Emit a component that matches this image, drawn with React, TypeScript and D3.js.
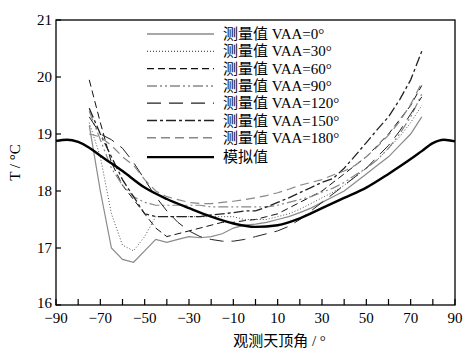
import * as d3 from "d3";

// viewing zenith angles of the measurements
const ANGLES = [
  -75, -70, -65, -60, -55, -50, -45, -40, -35, -30, -25, -20, -15, -10, -5, 0,
  5, 10, 15, 20, 25, 30, 35, 40, 45, 50, 55, 60, 65, 70, 75,
];

const VAA0 = [
  19.15, 18.0, 17.0, 16.8, 16.75, 16.95, 17.15, 17.1, 17.15, 17.2, 17.18, 17.2,
  17.25, 17.35, 17.4, 17.42, 17.45, 17.5, 17.55, 17.62, 17.7, 17.8, 17.9, 18.0,
  18.15, 18.3, 18.45, 18.6, 18.8, 19.0, 19.3,
];
const VAA30 = [
  19.2, 18.6, 17.6, 17.05, 16.95, 17.2, 17.55, 17.55, 17.55, 17.55, 17.55, 17.55,
  17.55, 17.55, 17.5, 17.5, 17.5, 17.55, 17.6, 17.68, 17.78, 17.88, 17.98, 18.1,
  18.25, 18.4, 18.55, 18.75, 18.95, 19.2, 19.5,
];
const VAA60 = [
  19.95, 19.2, 18.5, 18.1, 17.85, 17.6, 17.35, 17.2, 17.25, 17.3, 17.35, 17.4,
  17.45, 17.45, 17.48, 17.5, 17.55, 17.6, 17.7, 17.8, 17.9, 18.0, 18.15, 18.3,
  18.45, 18.6, 18.8, 19.0, 19.25, 19.5, 19.85,
];
const VAA90 = [
  19.4, 18.9, 18.4, 18.1, 17.9, 17.8, 17.75, 17.75, 17.75, 17.75, 17.75, 17.72,
  17.72, 17.72, 17.72, 17.72, 17.72, 17.75, 17.8, 17.85, 17.9, 17.98, 18.05,
  18.15, 18.28, 18.4, 18.55, 18.75, 19.0, 19.3, 19.7,
];
const VAA120 = [
  19.3, 19.0, 18.9, 18.75, 18.5, 18.2, 17.9, 17.65, 17.45, 17.3, 17.2, 17.15,
  17.12, 17.12, 17.15, 17.2, 17.25, 17.3, 17.38, 17.5, 17.65, 17.8, 17.95, 18.1,
  18.25, 18.4, 18.6, 18.8, 19.05, 19.35, 19.65,
];
const VAA150 = [
  19.45, 19.0, 18.6, 18.2, 17.9, 17.6, 17.55, 17.55, 17.55, 17.55, 17.55, 17.58,
  17.6, 17.62, 17.65, 17.65, 17.72, 17.8, 17.88, 17.97, 18.06, 18.15, 18.22,
  18.4, 18.62, 18.85, 19.08, 19.3, 19.6, 19.95, 20.45,
];
const VAA180 = [
  19.0, 18.95, 18.8, 18.6, 18.45, 18.2, 18.0, 17.9, 17.85, 17.8, 17.78, 17.78,
  17.8, 17.82, 17.85, 17.88, 17.92, 17.97, 18.03, 18.1, 18.15, 18.2, 18.28,
  18.35, 18.45, 18.6, 18.78, 18.98, 19.22, 19.52, 19.9,
];

// simulated curve
const SIM_ANGLES = [
  -90, -85, -80, -75, -70, -60, -50, -40, -30, -20, -10, 0, 10, 20, 30, 40, 50,
  60, 70, 75, 80, 85, 90,
];
const SIM_VALUES = [
  18.88, 18.9, 18.86, 18.76, 18.62, 18.35, 18.06, 17.86, 17.7, 17.55, 17.43,
  17.37, 17.4, 17.52, 17.7, 17.88, 18.06, 18.3, 18.56, 18.7, 18.84, 18.9, 18.87,
];

const X_TICKS = d3.range(-90, 91, 10);
const X_LABELS = [-90, -70, -50, -30, -10, 10, 30, 50, 70, 90];
const Y_TICKS = [16, 17, 18, 19, 20, 21];

const SERIES = [
  { name: "测量值 VAA=0°", values: VAA0, color: "#8a8a8a", width: 1.2, dash: "none" },
  { name: "测量值 VAA=30°", values: VAA30, color: "#555", width: 1, dash: "1,2" },
  { name: "测量值 VAA=60°", values: VAA60, color: "#111", width: 1, dash: "7,4" },
  { name: "测量值 VAA=90°", values: VAA90, color: "#888", width: 1.2, dash: "10,3,2,3,2,3" },
  { name: "测量值 VAA=120°", values: VAA120, color: "#222", width: 1, dash: "14,8" },
  { name: "测量值 VAA=150°", values: VAA150, color: "#222", width: 1.3, dash: "10,3,3,3" },
  { name: "测量值 VAA=180°", values: VAA180, color: "#888", width: 1.2, dash: "9,5" },
];

const FONT = "'Liberation Serif', 'Times New Roman', 'Noto Sans CJK SC', serif";

export default function App() {
  const W = 472;
  const H = 358;
  const left = 56;
  const right = 455;
  const top = 20;
  const bottom = 305;

  const x = d3.scaleLinear().domain([-90, 90]).range([left, right]);
  const y = d3.scaleLinear().domain([16, 21]).range([bottom, top]);

  const measLine = d3
    .line<number>()
    .x((_, i) => x(ANGLES[i]))
    .y((d) => y(d));

  const simLine = d3
    .line<number>()
    .x((_, i) => x(SIM_ANGLES[i]))
    .y((d) => y(d))
    .curve(d3.curveMonotoneX);

  const legendX = 147;
  const legendY = 34;
  const rowH = 17.3;

  return (
    <svg
      width={W}
      height={H}
      style={{ position: "absolute", left: 0, top: 0, background: "#fff" }}
      fontFamily={FONT}
    >
      {/* measured series */}
      {SERIES.map((s) => (
        <path
          key={s.name}
          d={measLine(s.values) || ""}
          fill="none"
          stroke={s.color}
          strokeWidth={s.width}
          strokeDasharray={s.dash}
        />
      ))}

      {/* simulated */}
      <path d={simLine(SIM_VALUES) || ""} fill="none" stroke="#000" strokeWidth={2.4} />

      {/* frame */}
      <rect x={left} y={top} width={right - left} height={bottom - top} fill="none" stroke="#000" strokeWidth={1.3} />

      {/* x ticks */}
      {X_TICKS.map((t) => (
        <line key={t} x1={x(t)} x2={x(t)} y1={bottom} y2={bottom - 6} stroke="#000" strokeWidth={1.2} />
      ))}
      {X_LABELS.map((t) => (
        <text key={t} x={x(t)} y={323} textAnchor="middle" fontSize={15} fill="#000">
          {t < 0 ? `\u2212${Math.abs(t)}` : t}
        </text>
      ))}

      {/* y ticks */}
      {Y_TICKS.map((t) => (
        <g key={t}>
          <line x1={left} x2={left + 5} y1={y(t)} y2={y(t)} stroke="#000" strokeWidth={1.2} />
          <text
            x={52}
            y={t === 16 ? y(t) + 3 : y(t) + 5}
            textAnchor="end"
            fontSize={15}
            fill="#000"
          >
            {t}
          </text>
        </g>
      ))}

      {/* axis titles */}
      <text
        transform={`translate(20,${(top + bottom) / 2}) rotate(-90)`}
        textAnchor="middle"
        fontSize={15}
        fill="#000"
      >
        T / °C
      </text>
      <text x={(left + right) / 2 + 24} y={346} textAnchor="middle" fontSize={15} fill="#000">
        观测天顶角 / °
      </text>

      {/* legend */}
      {SERIES.map((s, i) => (
        <g key={s.name} transform={`translate(${legendX},${legendY + i * rowH})`}>
          <line x1={0} x2={67} y1={0} y2={0} stroke={s.color} strokeWidth={s.width + 0.3} strokeDasharray={s.dash} />
          <text x={76} y={5} fontSize={15} fill="#000">
            {s.name}
          </text>
        </g>
      ))}
      <g transform={`translate(${legendX},${legendY + 7 * rowH + 2})`}>
        <line x1={0} x2={67} y1={0} y2={0} stroke="#000" strokeWidth={2.4} />
        <text x={76} y={5} fontSize={15} fill="#000">
          模拟值
        </text>
      </g>
    </svg>
  );
}
